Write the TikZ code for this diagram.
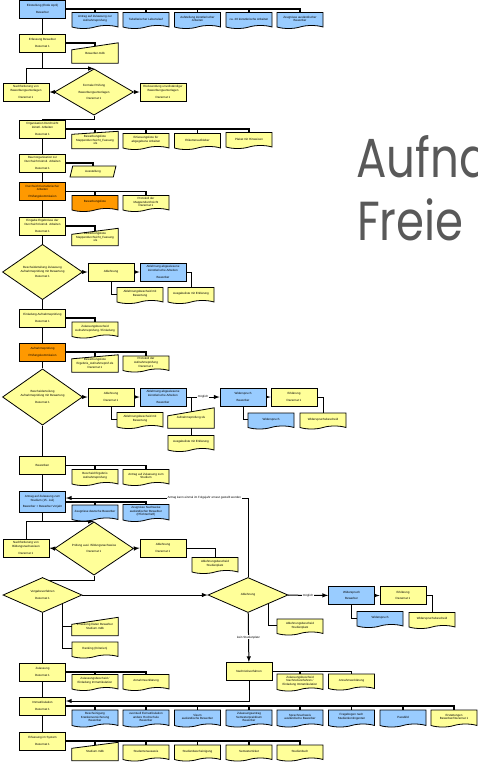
\documentclass[tikz,border=0pt]{standalone}
\usepackage{fontspec}
\setmainfont{Liberation Sans}
\newfontfamily\headfont{Poppins}
\usetikzlibrary{shapes.geometric}
\usetikzlibrary{shapes.symbols}
\usetikzlibrary{backgrounds}
\definecolor{procyellow}{RGB}{255,255,153}
\definecolor{procblue}{RGB}{153,204,255}
\definecolor{procorange}{RGB}{255,153,0}
\tikzset{
	task/.style={draw, rectangle, line width=0.8pt, minimum width=46, minimum height=18, inner sep=0pt, align=center, font=\fontsize{3}{3.6}\selectfont},
	decision/.style={draw, diamond, line width=0.8pt, fill=procyellow, minimum width=79, minimum height=35, inner sep=0pt, align=center, font=\fontsize{3}{3.6}\selectfont},
	paper/.style={draw, tape, tape bend top=none, tape bend height=3pt, line width=0.8pt, minimum width=46, minimum height=16, inner sep=0.5pt, align=center, font=\fontsize{3}{3.6}\selectfont},
	manual/.style={rectangle, minimum width=46, minimum height=17, inner sep=0pt, align=center, font=\fontsize{3}{3.6}\selectfont},
	datashape/.style={draw, trapezium, trapezium left angle=70, trapezium right angle=110, trapezium stretches=true, line width=0.8pt, fill=procyellow, minimum width=46, minimum height=11, inner sep=0pt, font=\fontsize{3}{3.6}\selectfont},
	yel/.style={fill=procyellow},
	blu/.style={fill=procblue},
	ora/.style={fill=procorange},
	flow/.style={line width=1pt},
	rail/.style={line width=1.2pt},
	lbl/.style={fill=white, inner sep=0.6pt, font=\fontsize{3}{3.6}\selectfont},
	head/.style={anchor=base west, inner sep=0pt, text=black!65, font=\headfont\fontsize{55}{60}\selectfont}
}

\begin{document}
\begin{tikzpicture}[x=1pt, y=-1pt]
	\useasboundingbox (0,0) rectangle (478,763);
	\clip (0,0) rectangle (478,763);

	% title
	\node[head] (head1) at (356,177) {\scalebox{0.82}[1]{Aufna}};
	\node[head] (head2) at (357,240) {\scalebox{0.82}[1]{Freie}};

	% einstellung
	\node[task, blu] (einst) at (42.5,9) {Einstellung (Ende April)\\[3pt]Bewerber};
	\node[paper, blu] (t1) at (95,19) {Antrag auf Zulassung zur\\Aufnahmeprüfung};
	\node[paper, blu] (t2) at (146,19) {Tabellarischer Lebenslauf};
	\node[paper, blu] (t3) at (197.5,19) {Aufstellung künstlerischer\\Arbeiten};
	\node[paper, blu] (t4) at (249,19) {ca. 20 künstlerische Arbeiten};
	\node[paper, blu] (t5) at (300,19) {Zeugnisse ausländischer\\Bewerber};

	% erfassung
	\node[task, yel] (erf) at (42.5,43) {Erfassung Bewerber\\[3pt]Dezernat 1};
	\node[manual, minimum height=20] (bmdb) at (95,53) {Bewerber.mdb};

	% formale pruefung
	\node[decision] (fp) at (94,92) {Formale Prüfung\\[3pt]Bewerbungsunterlagen\\[3pt]Dezernat 1};
	\node[task, yel] (nf) at (26,92) {Nachforderung von\\Bewerbungsunterlagen\\[3pt]Dezernat 1};
	\node[task, yel] (rs) at (163,92) {Rücksendung unvollständiger\\Bewerbungsunterlagen\\[3pt]Dezernat 1};

	% organisation
	\node[task, yel] (org) at (42.5,129) {Organisation Durchsicht\\künstl. Arbeiten\\[3pt]Dezernat 1};
	\node[manual] (o1) at (95,140) {Bewerbungsliste\\Mappendurchsicht\_Fassung\\.xls};
	\node[paper, yel] (o2) at (146,140) {Erfassungsliste für\\abgegebene Arbeiten};
	\node[paper, yel] (o3) at (197.5,140) {Etikettenaufkleber};
	\node[paper, yel] (o4) at (249,139) {Plakat mit Hinweisen};

	% raumorganisation
	\node[task, yel] (raum) at (42.5,163) {Raumorganisation zur\\Durchsicht künstl. Arbeiten\\[3pt]Dezernat 1};
	\node[datashape] (aush) at (93,171.5) {Ausstellung};

	% durchsicht
	\node[task, ora] (durch) at (42.5,191.5) {Durchsicht künstlerischer\\Arbeiten\\[3pt]Prüfungskommission};
	\node[paper, ora] (d1) at (95,202) {Bewerbungsliste};
	\node[paper, yel] (d2) at (146,202) {Protokoll der\\Mappendurchsicht\\Dezernat 1};

	% eingabe
	\node[task, yel] (ein) at (42.5,226) {Eingabe Ergebnisse der\\Durchsicht künstl. Arbeiten\\[3pt]Dezernat 1};
	\node[manual] (e1) at (95,237) {Bewerbungsliste\\Mappendurchsicht\_Fassung\\.xls};

	% bescheid zulassung
	\node[decision, minimum width=80, minimum height=36] (bz) at (42.5,272) {Bescheiderteilung Zulassung\\Aufnahmeprüfung mit Bewertung\\[2pt]Dezernat 1};
	\node[task, yel] (ab1) at (111,272) {Ablehnung};
	\node[task, blu] (ab1r) at (163,272) {Ablehnung abgewiesene\\künstlerische Arbeiten\\[3pt]Bewerber};
	\node[paper, yel] (ab1d) at (140,294) {Ablehnungsbescheid mit\\Bewertung};
	\node[paper, yel] (ab1a) at (191,294) {Ausgabeliste mit Erklärung};

	% einladung
	\node[task, yel] (einl) at (42.5,318) {Einladung Aufnahmeprüfung\\[3pt]Dezernat 1};
	\node[paper, yel] (einl1) at (95,328.5) {Zulassungsbescheid\\Aufnahmeprüfung / Einladung};

	% aufnahmepruefung
	\node[task, ora] (auf) at (42.5,352) {Aufnahmeprüfung\\[3pt]Prüfungskommission};
	\node[manual] (au1) at (95,363.5) {Bewerbungsliste\\Ergebnis\_Aufnahmeprüf.xls\\Dezernat 1};
	\node[paper, yel] (au2) at (146,362.5) {Protokoll der\\Aufnahmeprüfung\\Dezernat 1};

	% bescheid aufnahmepruefung
	\node[decision, minimum width=80] (ba) at (42.5,397) {Bescheiderteilung\\Aufnahmeprüfung mit Bewertung\\[3pt]Dezernat 1};
	\node[task, yel] (ab2) at (111,397) {Ablehnung\\[3pt]Dezernat 1};
	\node[task, blu] (ab2r) at (163,397) {Ablehnung abgewiesene\\künstlerische Arbeiten\\[3pt]Bewerber};
	\node[task, blu] (wid1) at (243,397) {Widerspruch\\[3pt]Bewerber};
	\node[task, yel] (erk1) at (294,397) {Erklärung\\[3pt]Dezernat 1};
	\node[paper, yel] (ab2d) at (140,419) {Ablehnungsbescheid mit\\Bewertung};
	\node[manual, minimum height=20] (ax) at (191,418) {Aufnahmeprüfung.xls};
	\node[paper, yel] (ab2a) at (191,442) {Ausgabeliste mit Erklärung};
	\node[paper, blu] (wid1d) at (271,419.5) {Widerspruch};
	\node[paper, yel] (erk1d) at (323,419.5) {Widerspruchsbescheid};

	% bewerben
	\node[task, yel] (bew) at (42.5,465.5) {Bewerben};
	\node[paper, yel] (bw1) at (95,476) {Bescheid Ergebnis\\Aufnahmeprüfung};
	\node[paper, yel] (bw2) at (146,476) {Antrag auf Zulassung zum\\Studium};

	% antrag
	\node[task, blu, minimum height=21] (ant) at (42.5,502) {Antrag auf Zulassung zum\\Studium (15. Juli)\\[3pt]Bewerber + Bewerber Vorjahr};
	\node[paper, blu] (an1) at (95,511.5) {Zeugnisse deutsche Bewerber};
	\node[paper, blu, minimum height=17] (an2) at (146,511.5) {Zeugnisse Nachweise\\ausländischer Bewerber\\(Pflichtenheft)};

	% pruefung ausl.
	\node[decision] (pa) at (94,548.5) {Prüfung ausl. Bildungsnachweise\\[3pt]Dezernat 1};
	\node[task, yel] (nb) at (26,548) {Nachforderung von\\Bildungsnachweisen\\[3pt]Dezernat 1};
	\node[task, yel] (ab3) at (163,548) {Ablehnung\\[3pt]Dezernat 1};
	\node[paper, yel] (ab3d) at (215,564) {Ablehnungsbescheid\\Studienplatz};

	% vergabeverfahren
	\node[decision] (vg) at (42.5,595) {Vergabeverfahren\\[3pt]Dezernat 1};
	\node[manual, minimum height=18] (vg1) at (95,626.5) {Erfassung Daten Bewerber\\Studium.mdb};
	\node[paper, yel] (vg2) at (95,648.5) {Ranking (Kriterien)};

	% ablehnung studienplatz
	\node[decision, minimum width=80] (abd) at (248,595) {Ablehnung};
	\node[task, blu] (wid2) at (351.5,595.5) {Widerspruch\\[3pt]Bewerber};
	\node[task, yel] (erk2) at (403,595.5) {Erklärung\\[3pt]Dezernat 1};
	\node[paper, blu] (wid2d) at (380,618) {Widerspruch};
	\node[paper, yel] (erk2d) at (432,619) {Widerspruchsbescheid};
	\node[paper, yel] (abdd) at (300,625.5) {Ablehnungsbescheid\\Studienplatz};

	% nachrueckverfahren
	\node[task, yel] (nach) at (249,671.5) {Nachrückverfahren};
	\node[paper, yel, minimum height=17] (n1) at (300,681) {Zulassungsbescheid\\Nachrückverfahren /\\Einladung Immatrikulation};
	\node[paper, yel] (n2) at (351.5,680.5) {Annahmeerklärung};

	% zulassung
	\node[task, yel] (zul) at (42.5,672) {Zulassung\\[3pt]Dezernat 1};
	\node[paper, yel] (z1) at (95,681) {Zulassungsbescheid /\\Einladung Immatrikulation};
	\node[paper, yel] (z2) at (146,681) {Annahmeerklärung};

	% immatrikulation
	\node[task, yel] (imm) at (42.5,706) {Immatrikulation\\[3pt]Dezernat 1};
	\node[paper, blu, minimum height=17] (i1) at (95,717) {Bescheinigung\\Krankenversicherung\\Bewerber};
	\node[paper, blu, minimum height=17] (i2) at (146,717) {eventuell Exmatrikulation\\andere Hochschule\\Bewerber};
	\node[paper, blu, minimum height=17] (i3) at (197.5,717) {Visum\\ausländische Bewerber};
	\node[paper, blu, minimum height=17] (i4) at (249,717) {Zulassungsantrag\\Semesterpraktikum\\Bewerber};
	\node[paper, blu, minimum height=17] (i5) at (300,717) {Sprachnachweis\\ausländische Bewerber};
	\node[paper, blu, minimum height=17] (i6) at (351.5,717) {Fragebogen nach\\Studienkontingenten};
	\node[paper, blu, minimum height=17] (i7) at (403,717) {Passbild};
	\node[paper, yel, minimum height=17] (i8) at (454,717) {Erstattungen\\Bewerber/Dezernat 1};

	% erfassung im system
	\node[task, yel] (sys) at (42.5,741) {Erfassung im System\\[3pt]Dezernat 1};
	\node[manual, minimum height=18] (s1) at (95,751.5) {Studium.mdb};
	\node[paper, yel] (s2) at (146,751.5) {Studentenausweis};
	\node[paper, yel] (s3) at (197.5,751.5) {Studienbescheinigung};
	\node[paper, yel] (s4) at (249,751.5) {Semesterticket};
	\node[paper, yel] (s5) at (300,751.5) {Studienbuch};

	\begin{scope}[on background layer]
		% ablauf
		\draw[flow] (einst) -- (erf);
		\draw[flow] (erf.south) -- (erf.south |- fp.north);
		\draw[flow, -latex] (nf.north) |- (fp.north);
		\draw[flow, -latex] (fp.west) -- (nf.east);
		\draw[flow, -latex] (fp.east) -- (rs.west);
		\draw[flow] (fp.south) -- ++(0,4) -| (org.north);
		\draw[flow] (org) -- (raum);
		\draw[flow] (raum) -- (durch);
		\draw[flow] (durch) -- (ein);
		\draw[flow] (ein) -- (bz);
		\draw[flow, -latex] (bz) -- (ab1);
		\draw[flow, -latex] (ab1) -- (ab1r);
		\draw[flow] (ab1.south) |- (ab1d.west);
		\draw[flow] (ab1r.east) -| (ab1a.north);
		\draw[flow] (bz) -- (einl);
		\draw[flow] (einl) -- (auf);
		\draw[flow] (auf) -- (ba);
		\draw[flow, -latex] (ba) -- (ab2);
		\draw[flow, -latex] (ab2) -- (ab2r);
		\draw[flow] (ab2.south) |- (ab2d.west);
		\draw[flow, -latex] (ab2r) -- node[lbl] {möglich} (wid1);
		\draw[flow] (ab2r.east -| ax.north) -- (ab2a.north);
		\draw[flow, -latex] (wid1) -- (erk1);
		\draw[flow] (wid1.south) |- (wid1d.west);
		\draw[flow] (erk1.east) -| (erk1d.north);
		\draw[flow] (ba) -- (bew);
		\draw[flow] (bew) -- (ant);
		\draw[flow] (ant.south) -- (ant.south |- pa.north);
		\draw[flow, -latex] (nb.north) |- (pa.north);
		\draw[flow, -latex] (pa.west) -- (nb.east);
		\draw[flow, -latex] (pa.east) -- (ab3.west);
		\draw[flow] (ab3.east) -| (ab3d.north);
		\draw[flow] (pa.south) -- ++(0,4.5) -| (vg.north);
		\draw[flow, -latex] (vg) -- (abd);
		\draw[flow] (vg.south east) |- (vg2.west);
		\draw[flow] (vg.south east |- vg1.west) -- (vg1.west);
		\draw[flow] (vg) -- (zul);
		\draw[flow, -latex] (abd.north) |- node[lbl, pos=0.62] {Antrag kann einmal im Folgejahr erneut gestellt werden} ([yshift=4pt]ant.east);
		\draw[flow, -latex] (abd) -- node[lbl] {möglich} (wid2);
		\draw[flow, -latex] (wid2) -- (erk2);
		\draw[flow] (wid2.south) |- (wid2d.west);
		\draw[flow] (erk2.east) -| (erk2d.north);
		\draw[flow] (abd.south east) |- (abdd.west);
		\draw[flow, -latex] (abd) -- node[lbl] {kein Studienplatz} (nach);
		\draw[flow, -latex] (nach.south) |- ([yshift=5pt]imm.east);
		\draw[flow] (zul) -- (imm);
		\draw[flow] (imm) -- (sys);

		% dokumente
		\draw[rail] (einst.east) -| (t5.north) (t1.north |- einst.east) -- (t1.north) (t2.north |- einst.east) -- (t2.north) (t3.north |- einst.east) -- (t3.north) (t4.north |- einst.east) -- (t4.north);
		\draw[rail] (erf.east) -| (bmdb.center);
		\draw[rail] (org.east) -| (o4.north) (o1.north |- org.east) -- (o1.center) (o2.north |- org.east) -- (o2.north) (o3.north |- org.east) -- (o3.north);
		\draw[rail] (raum.east) -| (aush.north);
		\draw[rail] (durch.east) -| (d2.north) (d1.north |- durch.east) -- (d1.north);
		\draw[rail] (ein.east) -| (e1.center);
		\draw[rail] (einl.east) -| (einl1.north);
		\draw[rail] (auf.east) -| (au2.north) (au1.north |- auf.east) -- (au1.center);
		\draw[rail] (bew.east) -| (bw2.north) (bw1.north |- bew.east) -- (bw1.north);
		\draw[rail] (ant.east) -| (an2.north) (an1.north |- ant.east) -- (an1.north);
		\draw[rail] (nach.east) -| (n2.north) (n1.north |- nach.east) -- (n1.north);
		\draw[rail] (zul.east) -| (z2.north) (z1.north |- zul.east) -- (z1.north);
		\draw[rail] (imm.east) -| (i8.north) (i1.north |- imm.east) -- (i1.north) (i2.north |- imm.east) -- (i2.north) (i3.north |- imm.east) -- (i3.north) (i4.north |- imm.east) -- (i4.north) (i5.north |- imm.east) -- (i5.north) (i6.north |- imm.east) -- (i6.north) (i7.north |- imm.east) -- (i7.north);
		\draw[rail] (sys.east) -| (s5.north) (s1.north |- sys.east) -- (s1.center) (s2.north |- sys.east) -- (s2.north) (s3.north |- sys.east) -- (s3.north) (s4.north |- sys.east) -- (s4.north);

		% manuelle eingabe
		\foreach \n/\s in {bmdb/7,o1/3,e1/6,au1/4,ax/8,vg1/7,s1/6}
			\draw[line width=0.8pt, fill=procyellow] (\n.south west) -- (\n.south east) -- (\n.north east) -- ([yshift=-\s*1pt]\n.north west) -- cycle;
	\end{scope}
\end{tikzpicture}
\end{document}
